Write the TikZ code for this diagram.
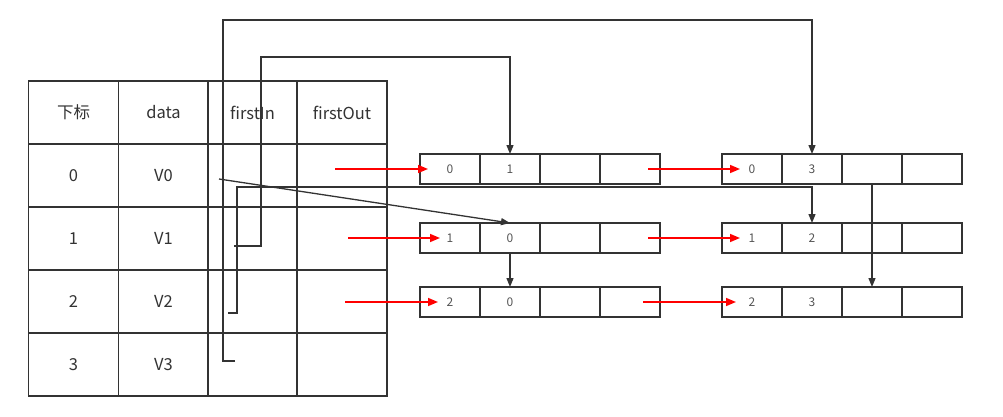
\documentclass[tikz,border=0pt]{standalone}
\usepackage{fontspec}
\newfontfamily\cjk{Noto Sans CJK SC}
\usetikzlibrary{arrows.meta}
\definecolor{lineGray}{HTML}{333333}
\definecolor{txtGray}{HTML}{333333}
\definecolor{numGray}{HTML}{555555}
\begin{document}
\begin{tikzpicture}[x=1pt,y=-1pt,
  cell/.style={draw=lineGray,line width=1.6pt,minimum height=63pt,inner sep=0pt,outer sep=0pt,
    font=\cjk\fontsize{16.5}{19}\selectfont,text=txtGray},
  ecell/.style={draw=lineGray,line width=1.5pt,minimum width=60pt,minimum height=30pt,inner sep=0pt,outer sep=0pt,
    font=\cjk\fontsize{12}{14}\selectfont,text=numGray},
  link/.style={draw=lineGray,line width=1.3pt},
  arr/.style={link,-{Triangle[length=9pt,width=7pt]}},
  redarr/.style={draw=red,line width=1.5pt,-{Triangle[length=10pt,width=8pt]}}]
\useasboundingbox (0,0) rectangle (1003,417);
% table
\node[cell,minimum width=90pt] (hidx) at (73.5,112.5) {下标};
\node[cell,minimum width=90pt] (hdat) at (163.5,112.5) {data};
\node[cell,minimum width=89pt] (hin) at (252.5,112.5) {firstIn};
\node[cell,minimum width=90pt] (hout) at (342,112.5) {firstOut};
\foreach \i/\y in {0/175.5,1/238.5,2/301.5,3/364.5}{
  \node[cell,minimum width=90pt] (idx\i) at (73.5,\y) {\i};
  \node[cell,minimum width=90pt] (dat\i) at (163.5,\y) {V\i};
  \node[cell,minimum width=89pt] (in\i) at (252.5,\y) {};
  \node[cell,minimum width=90pt] (out\i) at (342,\y) {};
}
% edge lists
\foreach \n/\t/\h/\x/\y in {01/0/1/450/169, 10/1/0/450/238, 20/2/0/450/302,
                            03/0/3/752/169, 12/1/2/752/238, 23/2/3/752/302}{
  \node[ecell] (e\n t) at (\x,\y) {\t};
  \node[ecell] (e\n h) at (\x+60,\y) {\h};
  \node[ecell] (e\n hl) at (\x+120,\y) {};
  \node[ecell] (e\n tl) at (\x+180,\y) {};
}
% firstIn connectors
\coordinate (fin3) at (235,361);
\draw[arr] (fin3) -- (223,361) -- (223,20) -| (e03h.north);
\coordinate (fin1) at (234,246);
\draw[arr] (fin1) -- (261,246) -- (261,57) -| (e01h.north);
\coordinate (fin2) at (228,313);
\draw[arr] (fin2) -- (237,313) -- (237,187) -| (e12h.north);
\coordinate (fin0) at (219,179);
\draw[arr] (fin0) -- (e10h.north);
\draw[arr] (e10h.south) -- (e20h.north);
\draw[arr] (e03hl.south) -- (e23hl.north);
% firstOut / tlink connectors
\coordinate (fo0) at (335,169);
\coordinate (fo1) at (348,238);
\coordinate (fo2) at (345,302);
\draw[redarr] (fo0) -- ([xshift=8pt]e01t.west);
\draw[redarr] (fo1) -- ([xshift=20pt]e10t.west);
\draw[redarr] (fo2) -- ([xshift=18pt]e20t.west);
\draw[redarr] ([xshift=-12pt]e01tl.east) -- ([xshift=18pt]e03t.west);
\draw[redarr] ([xshift=-12pt]e10tl.east) -- ([xshift=18pt]e12t.west);
\draw[redarr] ([xshift=-17pt]e20tl.east) -- ([xshift=14pt]e23t.west);
\end{tikzpicture}
\end{document}
